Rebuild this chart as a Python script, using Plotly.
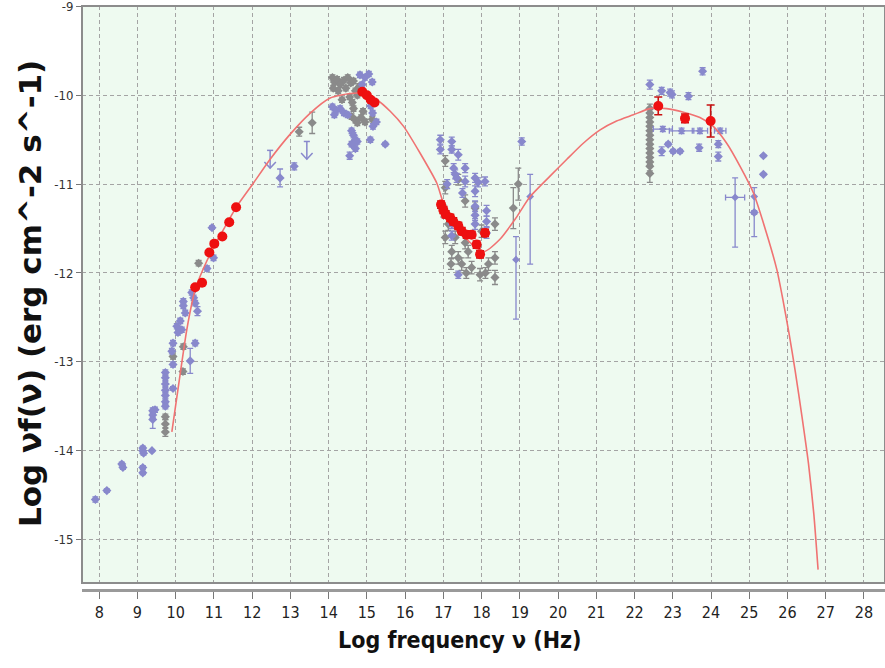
import plotly.graph_objects as go

# ---------------- data (log nu [Hz], log nuF_nu [erg cm^-2 s^-1]) ----------------
# model curve
model_x = [9.90, 10.12, 10.29, 10.51, 10.82, 11.20, 11.60, 12.03, 12.47, 12.99, 13.52,
           14.04, 14.56, 14.91, 15.26, 15.61, 15.96, 16.39, 16.83, 17.00, 17.30, 17.61,
           18.05, 18.48, 18.90, 19.27, 19.79, 20.23, 20.66, 21.10, 21.53, 21.97, 22.40,
           22.84, 23.28, 23.71, 24.06, 24.41, 24.76, 25.11, 25.45, 25.72, 25.88, 26.04,
           26.20, 26.38, 26.55, 26.69, 26.80]
model_y = [-13.79, -13.13, -12.64, -12.19, -11.86, -11.55, -11.25, -10.99, -10.72, -10.44, -10.20,
           -10.03, -9.98, -9.98, -10.05, -10.18, -10.35, -10.65, -10.99, -11.21, -11.43, -11.62,
           -11.76, -11.62, -11.38, -11.14, -10.91, -10.72, -10.54, -10.39, -10.29, -10.22, -10.15,
           -10.15, -10.19, -10.25, -10.35, -10.54, -10.80, -11.10, -11.55, -11.96, -12.30, -12.68,
           -13.10, -13.62, -14.15, -14.72, -15.34]

# archival data (blue)
blue_x = [7.90, 8.20, 8.59, 8.62, 9.14, 9.14, 9.16, 9.38, 9.14, 9.14, 9.40, 9.40, 9.40, 9.46,
          9.73, 9.73, 9.73, 9.73, 9.73, 9.73, 9.73, 9.93, 9.93, 9.93, 9.90, 10.03, 10.06,
          10.12, 10.16, 10.51, 10.20, 10.20, 10.25, 10.42, 10.47, 10.51, 10.57, 10.82,
          10.99, 10.95, 10.38, 12.73, 13.10,
          14.10, 14.20, 14.30, 14.40, 14.50, 14.15, 14.82, 14.95, 15.05, 15.14, 14.88,
          15.10, 15.15, 14.60, 14.65, 14.70, 14.60, 14.70, 14.55, 14.75, 15.09, 15.48,
          15.16, 15.25,
          16.92, 16.92, 17.22, 17.22, 17.39, 17.27, 17.31, 17.35, 17.57, 17.57, 17.83,
          17.91, 17.83, 18.09, 17.83, 17.83, 17.83, 18.13, 18.13, 18.13, 17.39, 17.22,
          17.22, 19.05, 17.10, 17.50,
          22.40, 22.71, 22.93, 22.98, 23.41, 23.78, 22.71, 22.88, 23.01, 23.19, 23.69,
          24.19, 24.19, 25.37, 25.37, 25.13]
blue_y = [-14.55, -14.45, -14.15, -14.19, -13.97, -14.00, -14.03, -14.00, -14.19, -14.25, -13.55,
          -13.60, -13.65, -13.54, -13.12, -13.18, -13.25, -13.32, -13.38, -13.45, -13.50, -13.30,
          -12.79, -13.03, -12.88, -12.60, -12.67, -12.54, -12.64, -12.79, -12.37, -12.32, -12.45,
          -12.22, -12.28, -12.34, -12.43, -11.95, -11.83, -11.49, -12.99, -10.93, -10.80,
          -10.13, -10.17, -10.15, -10.20, -10.22, -10.22, -9.77, -9.80, -9.76, -9.85, -9.88,
          -10.12, -10.20, -10.40, -10.45, -10.50, -10.55, -10.60, -10.68, -10.52, -10.50, -10.55,
          -10.35, -10.30,
          -10.50, -10.61, -10.52, -10.61, -10.67, -10.82, -10.89, -10.93, -10.82, -10.97, -10.93,
          -10.98, -11.08, -10.97, -11.25, -11.35, -11.45, -11.30, -11.42, -11.55, -12.02, -11.45,
          -11.58, -10.52, -11.00, -11.10,
          -9.88, -9.95, -9.97, -9.99, -10.01, -9.73, -10.63, -10.55, -10.63, -10.63, -10.59,
          -10.55, -10.69, -10.68, -10.89, -11.32]
blue_err = [0.03, 0.02, 0.02, 0.02, 0.02, 0.02, 0.02, 0.01, 0.02, 0.02, 0.03, 0.03, 0.10, 0.03,
            0.03, 0.03, 0.03, 0.03, 0.03, 0.03, 0.03, 0.02, 0.03, 0.03, 0.03, 0.03, 0.03,
            0.03, 0.03, 0.03, 0.03, 0.03, 0.03, 0.03, 0.03, 0.03, 0.05, 0.03,
            0.03, 0.02, 0.14, 0.10, 0.04,
            0.03, 0.03, 0.03, 0.03, 0.03, 0.03, 0.03, 0.03, 0.03, 0.03, 0.03,
            0.03, 0.03, 0.03, 0.03, 0.03, 0.03, 0.03, 0.04, 0.03, 0.03, 0.02,
            0.03, 0.03,
            0.05, 0.05, 0.05, 0.04, 0.06, 0.05, 0.05, 0.05, 0.05, 0.06, 0.05,
            0.05, 0.06, 0.05, 0.06, 0.06, 0.06, 0.06, 0.06, 0.06, 0.04, 0.05,
            0.05, 0.04, 0.05, 0.05,
            0.05, 0.04, 0.04, 0.04, 0.04, 0.04, 0.05, 0.02, 0.02, 0.02, 0.04,
            0.04, 0.05, 0.01, 0.01, 0.02]

# blue points with asymmetric / horizontal error bars
ba_x = [19.27, 18.90, 24.63, 25.13, 22.74, 23.23, 23.71, 24.24]
ba_y = [-11.14, -11.85, -11.15, -11.14, -10.38, -10.40, -10.40, -10.40]
ba_up = [0.25, 0.26, 0.22, 0.10, 0.03, 0.03, 0.03, 0.03]
ba_dn = [0.76, 0.67, 0.56, 0.45, 0.03, 0.03, 0.03, 0.03]
ba_xerr = [0.0, 0.0, 0.25, 0.0, 0.25, 0.32, 0.20, 0.15]

# archival data (gray)
gray_x = [9.73, 9.73, 9.73, 9.93, 10.20, 10.19, 10.60, 13.23, 13.57,
          14.10, 14.15, 14.22, 14.30, 14.12, 14.25, 14.40, 14.50, 14.58, 14.65, 14.45,
          14.70, 14.55, 14.35, 14.62, 14.75, 14.80, 14.60, 14.70, 14.85, 14.75, 15.14,
          14.95, 14.65, 14.90,
          17.05, 17.39, 17.05, 17.00, 17.13, 17.05, 17.22, 17.39, 17.48, 17.65, 17.74,
          17.96, 18.18, 18.35, 18.35, 18.35, 17.57, 17.83, 18.00, 17.31, 17.57, 17.20,
          17.60, 18.10, 18.96, 18.83,
          22.40, 22.40, 22.40, 22.40, 22.40, 22.40, 22.40, 22.40, 22.40, 22.40, 22.40,
          22.40, 22.40, 22.40, 22.40]
gray_y = [-13.62, -13.70, -13.79, -12.94, -12.83, -13.11, -11.89, -10.41, -10.31,
          -9.80, -9.85, -9.82, -9.88, -9.92, -9.95, -9.83, -9.80, -9.86, -9.84, -9.92,
          -9.95, -10.02, -10.05, -10.08, -10.00, -9.90, -10.24, -10.28, -10.25, -10.31, -10.27,
          -10.30, -10.15, -10.18,
          -10.74, -10.95, -11.04, -11.30, -11.45, -11.60, -11.76, -11.83, -11.90, -11.76, -11.94,
          -12.02, -11.90, -11.83, -12.05, -11.45, -11.19, -11.27, -11.53, -11.60, -11.66, -11.90,
          -12.00, -12.00, -11.00, -11.27,
          -10.15, -10.20, -10.25, -10.30, -10.35, -10.40, -10.45, -10.50, -10.55, -10.60, -10.65,
          -10.70, -10.75, -10.80, -10.88]
gray_err = [0.03, 0.05, 0.05, 0.03, 0.03, 0.03, 0.03, 0.05, 0.12,
            0.03, 0.03, 0.03, 0.03, 0.03, 0.03, 0.03, 0.03, 0.03, 0.03, 0.03,
            0.03, 0.03, 0.03, 0.03, 0.03, 0.03, 0.03, 0.03, 0.03, 0.03, 0.03,
            0.03, 0.03, 0.03,
            0.06, 0.06, 0.07, 0.07, 0.07, 0.07, 0.07, 0.07, 0.07, 0.07, 0.07,
            0.07, 0.07, 0.07, 0.08, 0.07, 0.07, 0.07, 0.07, 0.07, 0.07, 0.06,
            0.06, 0.06, 0.18, 0.23,
            0.05, 0.05, 0.05, 0.05, 0.05, 0.05, 0.05, 0.05, 0.05, 0.05, 0.05,
            0.05, 0.05, 0.05, 0.10]

# simultaneous data (red)
red_x = [10.51, 10.69, 10.88, 11.01, 11.22, 11.40, 11.58,
         14.88, 15.00, 15.10, 15.20,
         16.94, 17.00, 17.06, 17.18, 17.26, 17.39, 17.48, 17.61, 17.74, 17.87, 17.96, 18.09,
         22.62, 23.32, 23.99]
red_y = [-12.16, -12.11, -11.77, -11.67, -11.59, -11.43, -11.26,
         -9.96, -10.00, -10.05, -10.08,
         -11.23, -11.29, -11.34, -11.38, -11.42, -11.47, -11.53, -11.57, -11.57, -11.68, -11.79, -11.55,
         -10.12, -10.26, -10.29]
red_err = [0.02, 0.02, 0.02, 0.02, 0.02, 0.02, 0.02,
           0.02, 0.02, 0.02, 0.02,
           0.04, 0.04, 0.04, 0.04, 0.04, 0.04, 0.04, 0.04, 0.04, 0.04, 0.04, 0.04,
           0.10, 0.05, 0.18]

# upper limits (blue arrows)
ul_x = [12.47, 13.43]
ul_y = [-10.62, -10.52]

# axis ticks and titles
x_ticks = list(range(8, 29))
y_ticks = [-9, -10, -11, -12, -13, -14, -15]
x_title = "Log frequency ν (Hz)"
y_title = "Log νf(ν) (erg cm^-2 s^-1)"

# ---------------- style ----------------
BLUE = "#8888cc"
GRAY = "#8a8a8a"
RED = "#ee1010"
LINE = "#f07272"
COND = "DejaVu Sans Condensed, Liberation Sans Narrow, sans-serif"

fig = go.Figure()

fig.add_trace(go.Scatter(
    x=gray_x, y=gray_y, mode="markers",
    marker=dict(symbol="diamond", size=7, color=GRAY),
    error_y=dict(type="data", array=gray_err, color=GRAY, thickness=1.3, width=3),
    hoverinfo="x+y"))

fig.add_trace(go.Scatter(
    x=blue_x, y=blue_y, mode="markers",
    marker=dict(symbol="diamond", size=7, color=BLUE),
    error_y=dict(type="data", array=blue_err, color=BLUE, thickness=1.3, width=3),
    hoverinfo="x+y"))

fig.add_trace(go.Scatter(
    x=ba_x, y=ba_y, mode="markers",
    marker=dict(symbol="diamond", size=6, color=BLUE),
    error_y=dict(type="data", symmetric=False, array=ba_up, arrayminus=ba_dn,
                 color=BLUE, thickness=1.3, width=3),
    error_x=dict(type="data", array=ba_xerr, color=BLUE, thickness=1.3, width=3),
    hoverinfo="x+y"))

# upper-limit arrows built from ul arrays
ARR_LEN, HEAD_DX, HEAD_DY, CAP_DX = 0.20, 0.15, 0.07, 0.08
ax_, ay_ = [], []
for ux, uy in zip(ul_x, ul_y):
    tip = uy - ARR_LEN
    ax_ += [ux - CAP_DX, ux + CAP_DX, None, ux, ux, None,
            ux - HEAD_DX, ux, ux + HEAD_DX, None]
    ay_ += [uy, uy, None, uy, tip, None,
            tip + HEAD_DY, tip, tip + HEAD_DY, None]
fig.add_trace(go.Scatter(x=ax_, y=ay_, mode="lines",
                         line=dict(color=BLUE, width=1.5), hoverinfo="skip"))

fig.add_trace(go.Scatter(
    x=model_x, y=model_y, mode="lines",
    line=dict(color=LINE, width=1.6, shape="spline", smoothing=0.6),
    hoverinfo="skip"))

fig.add_trace(go.Scatter(
    x=red_x, y=red_y, mode="markers",
    marker=dict(symbol="circle", size=10, color=RED),
    error_y=dict(type="data", array=red_err, color="#c81010", thickness=1.6, width=4),
    hoverinfo="x+y"))

YDOM0 = 0.012
fig.update_layout(
    width=885, height=668,
    margin=dict(l=82, r=0, t=6, b=78, autoexpand=False),
    paper_bgcolor="white",
    plot_bgcolor="#eefaf0",
    showlegend=False,
    xaxis=dict(
        range=[7.55, 28.55], tickvals=x_ticks, ticktext=[str(t) for t in x_ticks],
        showgrid=True, gridcolor="#a4a4a4", griddash="4px,3px", gridwidth=1,
        zeroline=False, ticks="outside", ticklen=7, tickcolor="#777",
        showline=True, linecolor="#9a9a9a", linewidth=3,
        anchor="free", position=0, automargin=False, ticklabeloverflow="allow",
        tickfont=dict(family=COND, size=16, color="#222"),
    ),
    yaxis=dict(
        domain=[YDOM0, 1], range=[-15.49, -8.995], tickvals=y_ticks,
        ticktext=[str(t) for t in y_ticks],
        showgrid=True, gridcolor="#a4a4a4", griddash="4px,3px", gridwidth=1,
        zeroline=False, ticks="outside", ticklen=5, tickcolor="#777",
        showline=False, automargin=False, ticklabeloverflow="allow",
        tickfont=dict(family=COND, size=13, color="#333"),
    ),
    annotations=[
        dict(text="<b>" + x_title + "</b>", xref="paper", yref="paper",
             x=0.4707, y=0, xanchor="center", yanchor="top", yshift=-35,
             showarrow=False, font=dict(family=COND, size=23, color="#111")),
        dict(text="<b>" + y_title + "</b>", xref="paper", yref="paper",
             x=0, y=0.5, xanchor="center", yanchor="middle", xshift=-52, yshift=4,
             textangle=-90, showarrow=False,
             font=dict(family="DejaVu Sans, sans-serif", size=31, color="#111")),
    ],
    shapes=[dict(type="rect", xref="paper", yref="paper", x0=0, x1=1, y0=YDOM0, y1=1,
                 line=dict(color="#8c8c8c", width=2), layer="above")],
)

fig.write_html("out.html", config={"displayModeBar": False},
               post_script="document.body.style.margin='0px';")
